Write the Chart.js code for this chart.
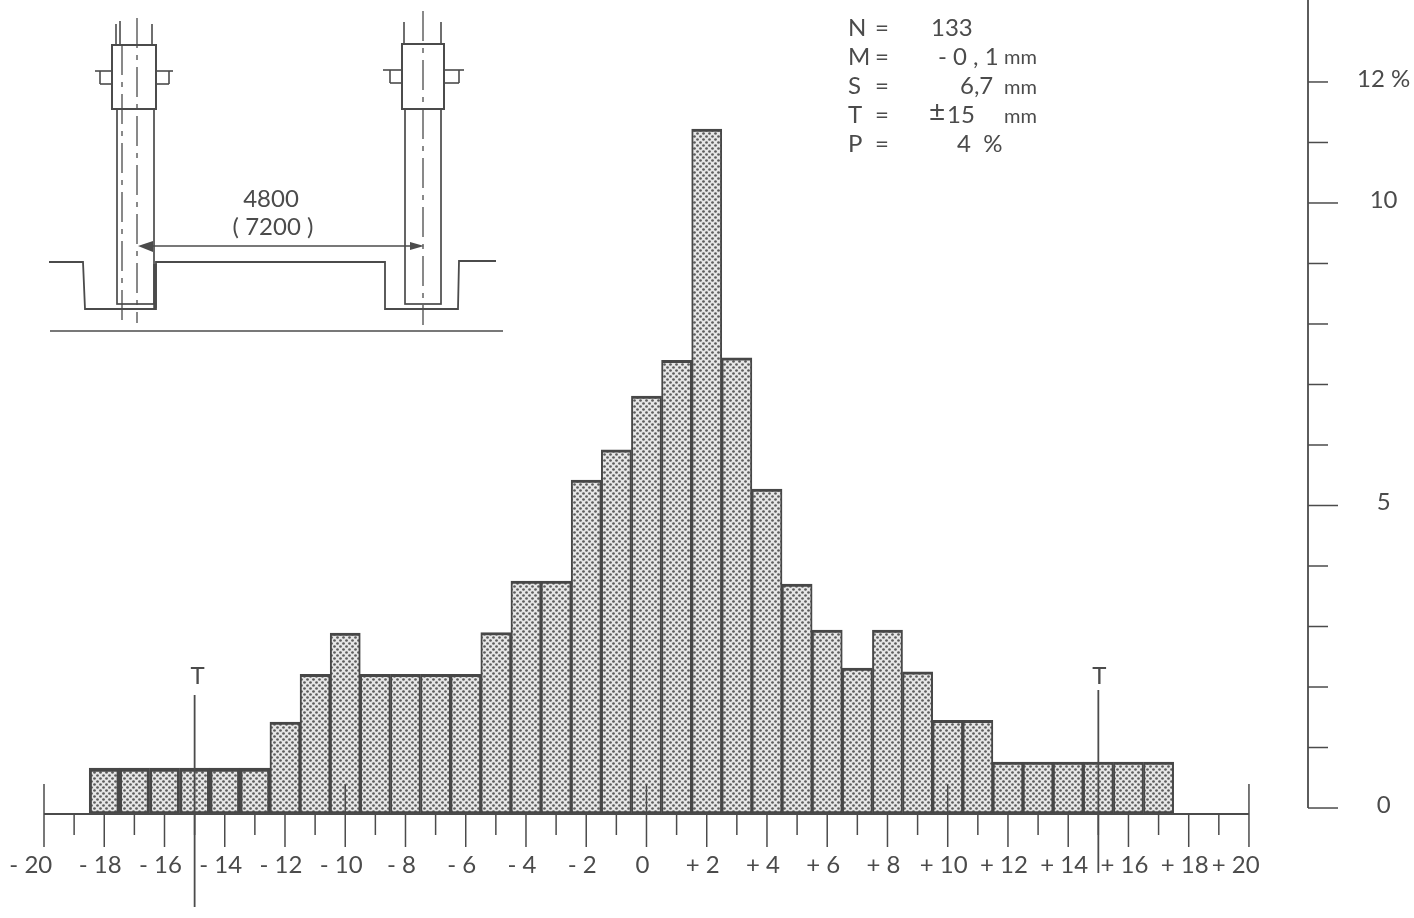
<!DOCTYPE html>
<html>
<head>
<meta charset="utf-8">
<title>Histogram</title>
<style>
  html, body { margin: 0; padding: 0; background: #fff; }
  #wrap { width: 1414px; height: 918px; }
</style>
<script src="https://cdn.jsdelivr.net/npm/chart.js@4"></script>
</head>
<body>
<div id="wrap"><canvas id="myChart" width="1414" height="918"></canvas></div>
<script>
/* data */
const bins = [-18, -17, -16, -15, -14, -13, -12, -11, -10, -9, -8, -7, -6, -5, -4, -3, -2, -1,
  0, 1, 2, 3, 4, 5, 6, 7, 8, 9, 10, 11, 12, 13, 14, 15, 16, 17];
const percents = [0.76, 0.76, 0.76, 0.76, 0.76, 0.76, 1.52, 2.31, 2.99, 2.31, 2.31, 2.31, 2.31, 3.0, 3.85, 3.85, 5.52, 6.02,
  6.91, 7.5, 11.32, 7.54, 5.37, 3.8, 3.04, 2.41, 3.04, 2.35, 1.55, 1.55, 0.86, 0.86, 0.86, 0.86, 0.86, 0.86];
const xLabelValues = [-20, -18, -16, -14, -12, -10, -8, -6, -4, -2, 0, 2, 4, 6, 8, 10, 12, 14, 16, 18, 20];
const xLabels = ['- 20', '- 18', '- 16', '- 14', '- 12', '- 10', '- 8', '- 6', '- 4', '- 2', '0',
  '+ 2', '+ 4', '+ 6', '+ 8', '+ 10', '+ 12', '+ 14', '+ 16', '+ 18', '+ 20'];
const xOddValues = [-19, -17, -15, -13, -11, -9, -7, -5, -3, -1, 1, 3, 5, 7, 9, 11, 13, 15, 17, 19];
const pctValues = [0, 1, 2, 3, 4, 5, 6, 7, 8, 9, 10, 11, 12];
const pctLabels = ['0', '', '', '', '', '5', '', '', '', '', '10', '', '12 %'];
const toleranceLines = [-15, 15];

const ink = '#4b4b4b';
const font = '24px Lato';

/* dotted fill of the bars */
function dotPattern() {
  const tile = document.createElement('canvas');
  tile.width = 6;
  tile.height = 6;
  const c = tile.getContext('2d');
  c.fillStyle = '#e6e6e6';
  c.fillRect(0, 0, 6, 6);
  c.fillStyle = '#5c5c5c';
  [[1.5, 1.5], [4.5, 4.5]].forEach(function(p) {
    c.beginPath();
    c.arc(p[0], p[1], 1.35, 0, Math.PI * 2);
    c.fill();
  });
  return c.createPattern(tile, 'repeat');
}

function line(c, x1, y1, x2, y2, width) {
  c.lineWidth = width || 1.5;
  c.beginPath();
  c.moveTo(x1, y1);
  c.lineTo(x2, y2);
  c.stroke();
}

function dashed(c, x, y1, y2) {
  c.save();
  c.setLineDash([30, 7, 5, 7]);
  line(c, x, y1, x, y2, 1.3);
  c.restore();
}

/* the little column drawing top left */
function drawSketch(c) {
  c.strokeStyle = ink;
  c.fillStyle = ink;
  c.lineWidth = 2;
  c.strokeRect(112, 45, 44, 64);
  c.strokeRect(402, 44, 42, 65);
  c.lineWidth = 1.7;
  c.strokeRect(117, 109, 37, 195);
  c.strokeRect(405, 109, 36, 195);

  [[116, 24], [152, 24], [120, 21], [404, 22], [441, 22]].forEach(function(p) {
    line(c, p[0], p[1], p[0], 45, 1.6);
  });

  // flanges: line from a to b, small box from its free end back to the sleeve
  [[95, 112, 100, 112], [156, 173, 169, 156], [383, 402, 390, 402], [444, 464, 459, 444]].forEach(function(f, i) {
    const y = i < 2 ? 71 : 70;
    line(c, f[0], y, f[1], y, 1.6);
    line(c, f[2], y, f[2], y + 13, 1.6);
    line(c, f[2], y + 13, f[3], y + 13, 1.6);
  });

  dashed(c, 122, 45, 323);
  dashed(c, 137, 18, 323);
  dashed(c, 423, 11, 325);

  // ground profile
  c.lineWidth = 1.8;
  c.beginPath();
  c.moveTo(49, 262);
  c.lineTo(83, 262);
  c.lineTo(85, 309);
  c.lineTo(156, 309);
  c.lineTo(156, 262);
  c.lineTo(385, 262);
  c.lineTo(385, 309);
  c.lineTo(458, 309);
  c.lineTo(459, 261);
  c.lineTo(496, 261);
  c.stroke();
  line(c, 155, 264, 155, 308, 3.5);
  line(c, 50, 331, 503, 331, 1.6);

  // dimension line
  line(c, 150, 246, 410, 246, 1.6);
  c.beginPath();
  c.moveTo(138, 246);
  c.lineTo(153, 241);
  c.lineTo(153, 252);
  c.fill();
  c.beginPath();
  c.moveTo(424, 246);
  c.lineTo(410, 242);
  c.lineTo(410, 250);
  c.fill();

  c.font = font;
  c.textAlign = 'center';
  c.textBaseline = 'middle';
  c.fillText('4800', 271, 199);
  c.fillText('( 7200 )', 273, 227);
}

/* N, M, S ... block */
function drawStats(c) {
  c.fillStyle = ink;
  c.font = font;
  c.textAlign = 'left';
  c.textBaseline = 'middle';
  const rows = [
    ['N', 'M', 'S', 'T', 'P'],
    ['133', '- 0 , 1', '6,7', '15', '4  %'],
    [931, 938, 960, 947, 957]
  ];
  rows[0].forEach(function(name, i) {
    const y = 28 + i * 29;
    c.fillText(name, 848, y);
    c.fillText('=', 875, y);
    c.fillText(rows[1][i], rows[2][i], y);
  });
  c.font = '28px Lato';
  c.fillText('\u00B1', 929, 112);
  c.font = '20px Lato';
  c.fillText('mm', 1004, 58);
  c.fillText('mm', 1004, 88);
  c.fillText('mm', 1004, 117);
}

/* ticks, baseline and the T marks, everything read through the scales */
const decorations = {
  id: 'decorations',
  afterDatasetsDraw(chart) {
    const c = chart.ctx;
    const x = chart.scales.x;
    const pct = chart.scales.yPct;
    const base = chart.chartArea.bottom;
    const axisX = chart.chartArea.right;

    c.save();
    c.strokeStyle = ink;
    line(c, x.getPixelForValue(-20), base, x.getPixelForValue(20), base, 2);

    xLabelValues.forEach(function(v) {
      const px = x.getPixelForValue(v);
      const up = v % 10 === 0 ? 30 : 0;
      line(c, px, base - up, px, base + 33, 1.5);
    });
    xOddValues.forEach(function(v) {
      const px = x.getPixelForValue(v);
      line(c, px, base, px, base + 21, 1.5);
    });

    // right axis
    line(c, axisX, pct.getPixelForValue(0), axisX, 0, 1.8);
    pctValues.forEach(function(v) {
      const py = pct.getPixelForValue(v);
      line(c, axisX, py, axisX + (v % 5 === 0 ? 30 : 20), py, 1.5);
    });

    // tolerance marks
    c.fillStyle = ink;
    c.font = font;
    c.textAlign = 'center';
    c.textBaseline = 'middle';
    toleranceLines.forEach(function(v) {
      const px = x.getPixelForValue(v);
      const left = v < 0;
      line(c, px, left ? 695 : 690, px, left ? 907 : 873, 1.8);
      c.fillText('T', px + (left ? 3 : 1), 676);
    });

    drawSketch(c);
    drawStats(c);
    c.restore();
  }
};

// tick padding must not eat into the plot area
function noPadding(scale) {
  scale.paddingTop = 0;
  scale.paddingBottom = 0;
  scale.paddingLeft = 0;
  scale.paddingRight = 0;
}

const ctx = document.getElementById('myChart').getContext('2d');

new Chart(ctx, {
  type: 'bar',
  data: {
    datasets: [{
      data: bins.map(function(b, i) { return { x: b, y: percents[i] }; }),
      backgroundColor: dotPattern(),
      borderColor: '#474747',
      borderSkipped: false,
      borderWidth: function(c) {
        const dark = c.raw && c.raw.x < -12.5;
        return { top: dark ? 4 : 3, bottom: 3, left: dark ? 3 : 2, right: dark ? 3 : 2 };
      },
      barPercentage: 1,
      categoryPercentage: 1,
      xAxisID: 'x',
      yAxisID: 'y'
    }]
  },
  options: {
    responsive: false,
    animation: false,
    layout: { padding: { left: 44, right: 0, top: 0, bottom: 0 }, autoPadding: false },
    plugins: { legend: { display: false }, tooltip: { enabled: false }, title: { display: false } },
    scales: {
      x: {
        type: 'linear',
        offset: false,
        min: -20,
        max: 21.96,
        border: { display: false },
        grid: { display: false, offset: false },
        afterBuildTicks: function(scale) {
          scale.ticks = xLabelValues.map(function(v) { return { value: v }; });
        },
        afterFit: function(scale) {
          scale.height = 104;
          noPadding(scale);
        },
        ticks: {
          autoSkip: false,
          maxRotation: 0,
          minRotation: 0,
          padding: 29,
          labelOffset: -4,
          color: ink,
          font: { family: 'Lato', size: 24 },
          callback: function(v) {
            const label = xLabels[xLabelValues.indexOf(v)];
            return Math.abs(v) === 20 ? label + '   ' : label;
          }
        }
      },
      y: {
        display: false,
        min: 0,
        max: 13.455
      },
      yPct: {
        position: 'right',
        min: -0.099,
        max: 13.355,
        border: { display: false },
        grid: { display: false },
        afterBuildTicks: function(scale) {
          scale.ticks = pctValues.map(function(v) { return { value: v }; });
        },
        afterFit: function(scale) {
          scale.width = 106;
          noPadding(scale);
        },
        ticks: {
          autoSkip: false,
          padding: 41,
          crossAlign: 'center',
          labelOffset: -3,
          color: ink,
          font: { family: 'Lato', size: 24 },
          callback: function(v) {
            return pctLabels[pctValues.indexOf(v)];
          }
        }
      }
    }
  },
  plugins: [decorations]
});
</script>
</body>
</html>
